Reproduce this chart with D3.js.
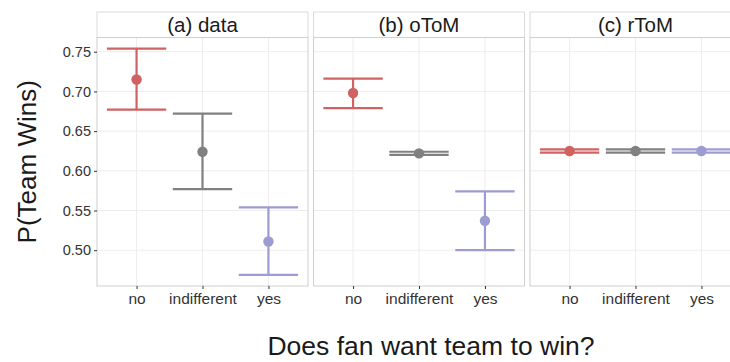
<!DOCTYPE html>
<html>
<head>
<meta charset="utf-8">
<script src="https://cdn.jsdelivr.net/npm/d3@7"></script>
<style>
  body { margin: 0; background: #fff; }
  svg { display: block; font-family: "Liberation Sans", Arial, sans-serif; }
</style>
</head>
<body>
<div id="chart"></div>
<script>
// categories & panels
const categories = ["no", "indifferent", "yes"];
const panels = ["(a) data", "(b) oToM", "(c) rToM"];
const colors = ["#d06262", "#808080", "#9c9cd2"];
const yTicks = [0.50, 0.55, 0.60, 0.65, 0.70, 0.75];

// means and interval bounds per panel (order: no, indifferent, yes)
const meanA = [0.715, 0.624, 0.511];
const lowA  = [0.677, 0.577, 0.469];
const highA = [0.754, 0.672, 0.554];

const meanB = [0.698, 0.622, 0.537];
const lowB  = [0.679, 0.620, 0.500];
const highB = [0.716, 0.624, 0.574];

const meanC = [0.625, 0.625, 0.625];
const lowC  = [0.623, 0.623, 0.623];
const highC = [0.627, 0.627, 0.627];

const series = [
  { mean: meanA, low: lowA, high: highA },
  { mean: meanB, low: lowB, high: highB },
  { mean: meanC, low: lowC, high: highC }
];

const W = 730, H = 362;
const panelLeft = 97, panelW = 211, gap = 5.5;
const stripTop = 12, panelTop = 37.5, panelBottom = 286;

const svg = d3.select("#chart").append("svg")
  .attr("width", W).attr("height", H);

const y = d3.scaleLinear()
  .domain([0.4549, 0.7679])
  .range([panelBottom, panelTop]);

panels.forEach((title, p) => {
  const x0 = panelLeft + p * (panelW + gap);
  const x = d3.scalePoint()
    .domain(categories)
    .range([x0, x0 + panelW])
    .padding(0.6);
  const step = x.step();

  const g = svg.append("g");

  // strip
  g.append("rect")
    .attr("x", x0).attr("y", stripTop)
    .attr("width", panelW).attr("height", panelTop - stripTop)
    .attr("fill", "#fff").attr("stroke", "#dcdcdc").attr("stroke-width", 1);
  g.append("text")
    .attr("x", x0 + panelW / 2).attr("y", panelTop - 6)
    .attr("text-anchor", "middle")
    .attr("font-size", 20.5)
    .attr("fill", "#1a1a1a")
    .text(title);

  // grid
  g.selectAll(".hg").data(yTicks).enter().append("line")
    .attr("x1", x0).attr("x2", x0 + panelW)
    .attr("y1", d => y(d)).attr("y2", d => y(d))
    .attr("stroke", "#ededed").attr("stroke-width", 1);
  g.selectAll(".vg").data(categories).enter().append("line")
    .attr("x1", d => x(d)).attr("x2", d => x(d))
    .attr("y1", panelTop).attr("y2", panelBottom)
    .attr("stroke", "#ededed").attr("stroke-width", 1);

  // panel border
  g.append("rect")
    .attr("x", x0).attr("y", panelTop)
    .attr("width", panelW).attr("height", panelBottom - panelTop)
    .attr("fill", "none").attr("stroke", "#cfcfcf").attr("stroke-width", 1);

  // x axis
  const xa = g.append("g")
    .attr("transform", `translate(0,${panelBottom})`)
    .call(d3.axisBottom(x).tickSize(3).tickPadding(4));
  xa.select(".domain").remove();
  xa.selectAll(".tick line").attr("stroke", "#333");
  xa.selectAll(".tick text").attr("font-size", 15.5).attr("fill", "#333")
    .attr("font-family", "Liberation Sans, Arial, sans-serif");

  // error bars + points
  const s = series[p];
  const half = step * 0.45;
  categories.forEach((c, i) => {
    const cx = x(c);
    const col = colors[i];
    g.append("line")
      .attr("x1", cx).attr("x2", cx)
      .attr("y1", y(s.low[i])).attr("y2", y(s.high[i]))
      .attr("stroke", col).attr("stroke-width", 2.2);
    [s.low[i], s.high[i]].forEach(v => {
      g.append("line")
        .attr("x1", cx - half).attr("x2", cx + half)
        .attr("y1", y(v)).attr("y2", y(v))
        .attr("stroke", col).attr("stroke-width", 2.2);
    });
    g.append("circle")
      .attr("cx", cx).attr("cy", y(s.mean[i]))
      .attr("r", 5.2).attr("fill", col);
  });
});

// y axis
const ya = svg.append("g")
  .attr("transform", `translate(${panelLeft},0)`)
  .call(d3.axisLeft(y).tickValues(yTicks).tickFormat(d3.format(".2f")).tickSize(3).tickPadding(3));
ya.select(".domain").remove();
ya.selectAll(".tick line").attr("stroke", "#333");
ya.selectAll(".tick text").attr("font-size", 14.5).attr("fill", "#333")
  .attr("font-family", "Liberation Sans, Arial, sans-serif");

// axis titles
svg.append("text")
  .attr("transform", `translate(36,${(panelTop + panelBottom) / 2}) rotate(-90)`)
  .attr("text-anchor", "middle")
  .attr("font-size", 26)
  .attr("fill", "#1a1a1a")
  .text("P(Team Wins)");

svg.append("text")
  .attr("x", 431).attr("y", 355)
  .attr("text-anchor", "middle")
  .attr("font-size", 26.5)
  .attr("fill", "#1a1a1a")
  .text("Does fan want team to win?");
</script>
</body>
</html>
